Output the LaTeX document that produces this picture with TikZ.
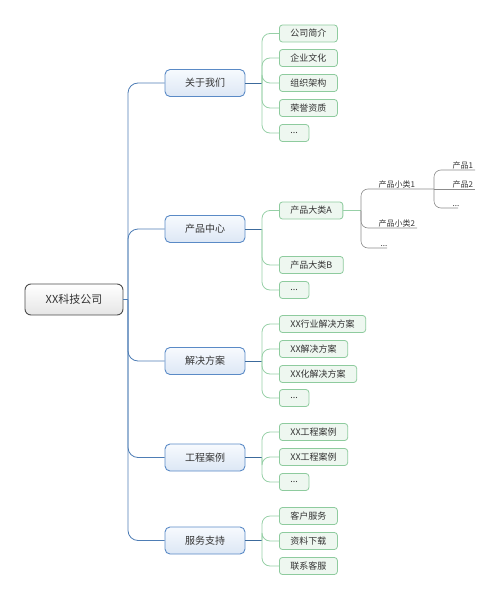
\documentclass[tikz,border=0pt]{standalone}
\usepackage{fontspec}
\setmainfont{Noto Sans CJK SC}
\definecolor{trunkc}{HTML}{4E7DB5}
\definecolor{lonedraw}{HTML}{5A8AC6}
\definecolor{lonetop}{HTML}{F7FAFE}
\definecolor{lonebot}{HTML}{DCE7F5}
\definecolor{bridgec}{HTML}{3C6A9C}
\definecolor{gdraw}{HTML}{8ECB9E}
\definecolor{gfill}{HTML}{EEF7F0}
\definecolor{glinec}{HTML}{97D0A7}
\definecolor{txtc}{HTML}{333333}
\begin{document}
\begin{tikzpicture}[x=1pt,y=-1pt,
  rootbox/.style={draw=black!70,line width=0.9pt,rounded corners=6pt,top color=white,bottom color=black!10,
    minimum width=98pt,minimum height=31pt,inner sep=0pt,font=\fontsize{11}{13}\selectfont,text=txtc},
  lonebox/.style={draw=lonedraw,line width=0.9pt,rounded corners=5pt,top color=lonetop,bottom color=lonebot,
    minimum width=80pt,minimum height=27pt,inner sep=0pt,font=\fontsize{10}{12}\selectfont,text=txtc},
  ltwobox/.style={draw=gdraw,line width=0.8pt,rounded corners=3pt,fill=gfill,
    minimum width=29pt,minimum height=17pt,inner xsep=11pt,inner ysep=0pt,anchor=west,font=\fontsize{9}{11}\selectfont,text=txtc},
  subtxt/.style={inner xsep=1.5pt,inner ysep=1pt,anchor=south west,font=\fontsize{8}{9}\selectfont,text=txtc},
  trunk/.style={draw=trunkc,line width=0.8pt,rounded corners=10pt},
  bline/.style={draw=bridgec,line width=0.8pt},
  gline/.style={draw=glinec,line width=0.8pt,rounded corners=8pt},
  sline/.style={draw=black!45,line width=0.6pt,rounded corners=7pt}
]
\useasboundingbox (0,0) rectangle (500,599);

% root
\node[rootbox] (root) at (74,299.5) {XX科技公司};
\coordinate (tr) at (128,299.5);

% level 1
\node[lonebox] (a) at (205,83) {关于我们};
\node[lonebox] (b) at (205,229) {产品中心};
\node[lonebox] (c) at (205,361) {解决方案};
\node[lonebox] (d) at (205,457.5) {工程案例};
\node[lonebox] (e) at (205,540.5) {服务支持};

\draw[trunk] (root.east) -- (tr);
\foreach \n in {a,b,c,d,e} { \draw[trunk] (tr) |- (\n.west); }

% level 2 nodes
\node[ltwobox] (a1) at (279,33.5) {公司简介};
\node[ltwobox] (a2) at (279,58) {企业文化};
\node[ltwobox] (a3) at (279,83) {组织架构};
\node[ltwobox] (a4) at (279,108) {荣誉资质};
\node[ltwobox] (a5) at (279,133) {...};

\node[ltwobox] (b1) at (279,210.5) {产品大类A};
\node[ltwobox] (b2) at (279,265) {产品大类B};
\node[ltwobox] (b3) at (279,290) {...};

\node[ltwobox] (c1) at (279,324) {XX行业解决方案};
\node[ltwobox] (c2) at (279,349) {XX解决方案};
\node[ltwobox] (c3) at (279,374) {XX化解决方案};
\node[ltwobox] (c4) at (279,398) {...};

\node[ltwobox] (d1) at (279,432) {XX工程案例};
\node[ltwobox] (d2) at (279,457) {XX工程案例};
\node[ltwobox] (d3) at (279,482) {...};

\node[ltwobox] (e1) at (279,516) {客户服务};
\node[ltwobox] (e2) at (279,541) {资料下载};
\node[ltwobox] (e3) at (279,566) {联系客服};

% junctions
\coordinate (ja) at (262,83);
\coordinate (jb) at (262,229);
\coordinate (jc) at (262,361);
\coordinate (jd) at (262,457.5);
\coordinate (je) at (262,540.5);

\draw[bline] (a.east) -- (ja);
\draw[bline] (b.east) -- (jb);
\draw[bline] (c.east) -- (jc);
\draw[bline] (d.east) -- (jd);
\draw[bline] (e.east) -- (je);

\foreach \n in {a1,a2,a3,a4,a5} { \draw[gline] (ja) |- (\n.west); }
\foreach \n in {b1,b2,b3} { \draw[gline] (jb) |- (\n.west); }
\foreach \n in {c1,c2,c3,c4} { \draw[gline] (jc) |- (\n.west); }
\foreach \n in {d1,d2,d3} { \draw[gline] (jd) |- (\n.west); }
\foreach \n in {e1,e2,e3} { \draw[gline] (je) |- (\n.west); }

% sub levels of 产品大类A
\coordinate (js) at (361,210.5);
\draw[gline] (b1.east) -- (js);
\node[subtxt] (s1) at (377,189) {产品小类1};
\node[subtxt] (s2) at (377,228) {产品小类2};
\node[subtxt] (s3) at (379,248) {...};
\coordinate (jp) at (434,189);
\coordinate (s2e) at (417,228);
\coordinate (s3e) at (387,248);
\draw[sline] (js) |- (jp);
\draw[sline] (js) |- (s2e);
\draw[sline] (js) |- (s3e);

\node[subtxt] (p1) at (451,170) {产品1};
\node[subtxt] (p2) at (451,189) {产品2};
\node[subtxt] (p3) at (451,208) {...};
\coordinate (p1e) at (475,170);
\coordinate (p2e) at (475,189);
\coordinate (p3e) at (458,208);
\draw[sline] (jp) |- (p1e);
\draw[sline] (jp) -- (p2e);
\draw[sline] (jp) |- (p3e);
\end{tikzpicture}
\end{document}
